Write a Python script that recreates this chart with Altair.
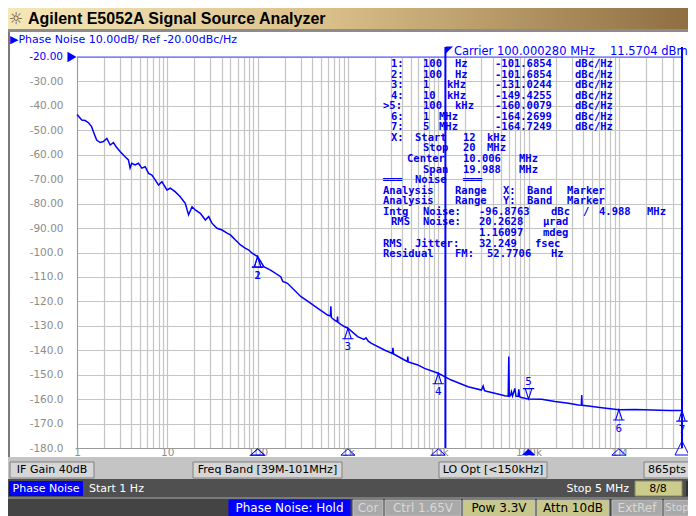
import re
import altair as alt
import pandas as pd

# ---------------- data ----------------
freq_hz = [1.0, 1.13, 1.23, 1.34, 1.45, 1.52, 1.65, 1.80, 1.96, 2.14, 2.33, 2.53, 2.71, 3.0,
           3.41, 3.71, 3.87, 4.04, 4.4, 4.79, 5.22, 5.69, 6.2, 6.75, 7.34, 8.0, 8.71, 9.9,
           10.8, 12.2, 13.9, 15.8, 17.2, 18.8, 20.4, 23.2, 26.4, 28.7, 31.2, 35.5, 40.4,
           45.9, 50.0, 52.2, 56.8, 64.6, 73.4, 79.9, 86.9, 100, 117, 139, 180, 190, 214,
           300, 388, 460, 595, 640, 647, 655, 705, 760, 767, 775, 910, 1000, 1282, 1500,
           1585, 1680, 1802, 2531, 3100, 3150, 3200, 4224, 4550, 4600, 4650, 5945, 7046,
           10000, 13940, 21380, 30060, 31400, 32500, 34100, 42240, 54580, 59500, 60400,
           61200, 63000, 64700, 66500, 70470, 72500, 76500, 78000, 79500, 83600, 100000,
           139400, 196000, 276000, 356700, 384000, 388000, 392000, 460000, 647000,
           1000000, 1520000, 2330000, 3560000, 5000000]
pn_dbc = [-43.5, -45.8, -46.0, -46.9, -48.5, -50.6, -54.0, -55.0, -54.6, -53.3, -56.0, -55.0,
          -56.7, -58.7, -60.8, -62.1, -65.4, -63.5, -64.2, -63.5, -65.5, -64.9, -67.6, -68.3,
          -70.3, -72.4, -71.0, -74.4, -73.7, -75.1, -77.2, -79.9, -84.6, -81.3, -82.6, -84.0,
          -86.7, -85.3, -88.0, -90.1, -90.8, -92.1, -92.8, -93.5, -94.9, -96.9, -98.3, -99.0,
          -100.3, -101.7, -105.8, -107.2, -109.9, -111.8, -112.6, -118.0, -120.8, -122.8,
          -125.6, -126.0, -122.0, -126.6, -127.6, -128.3, -126.2, -128.6, -130.3, -131.0,
          -134.4, -135.6, -134.9, -136.3, -137.1, -139.9, -141.3, -139.0, -141.5, -144.0,
          -144.6, -142.6, -144.8, -146.0, -147.4, -149.4, -152.2, -154.9, -156.3, -154.6,
          -156.5, -156.8, -157.6, -158.6, -158.8, -142.6, -158.8, -158.6, -157.0, -158.7,
          -155.6, -158.8, -158.9, -156.0, -159.0, -159.3, -160.0, -160.1, -161.0, -161.7,
          -162.4, -162.5, -158.3, -162.5, -162.8, -163.5, -164.3, -164.2, -164.4, -164.7,
          -164.7]

marker_ids = ["1", "2", "3", "4", "5", "6", "7"]
marker_freq_hz = [100, 100, 1e3, 1e4, 1e5, 1e6, 5e6]
marker_dbc = [-101.6854, -101.6854, -131.0244, -149.4255, -160.0079, -164.2699, -164.7249]
active_marker = "5"

ref_level = [-20]
band_lines_hz = [12e3, 5e6]          # start 12 kHz, stop (20 MHz) drawn at the right edge

y_ticks = list(range(-20, -181, -10))
x_decades = [1, 10, 100, 1000, 10000, 100000, 1000000]
x_decade_labels = ["1", "10", "100", "1k", "10k", "100k", "1M"]
x_grid = [m * 10 ** d for d in range(0, 7) for m in range(1, 10) if m * 10 ** d <= 5e6]

table_lines = [
    " 1:  100 Hz   -101.6854 dBc/Hz",
    " 2:  100 Hz   -101.6854 dBc/Hz",
    " 3:  1  kHz   -131.0244 dBc/Hz",
    " 4:  10 kHz   -149.4255 dBc/Hz",
    ">5:  100 kHz  -160.0079 dBc/Hz",
    " 6:  1 MHz    -164.2699 dBc/Hz",
    " 7:  5 MHz    -164.7249 dBc/Hz",
    " X: Start 12 kHz",
    "     Stop 20 MHz",
    "   Center 10.006 MHz",
    "     Span 19.988 MHz",
    "═══ Noise ═══",
    "Analysis Range X: Band Marker",
    "Analysis Range Y: Band Marker",
    "Intg Noise: -96.8763 dBc / 4.988 MHz",
    " RMS Noise: 20.2628 µrad",
    "            1.16097 mdeg",
    "RMS Jitter: 32.249 fsec",
    "Residual FM: 52.7706 Hz",
]

# ---------------- layout ----------------
OX, OY = 77, 57          # page position of the plot origin
W, H = 605, 391
BLUE = "#0000ff"
UI = "DejaVu Sans"
MONO = "DejaVu Sans Mono"

one = pd.DataFrame({"d": [0]})


def vx(X):
    return X - OX


def vy(Y):
    return Y - OY


def rect(X1, Y1, X2, Y2, fill, stroke=None, sw=1.0):
    kw = dict(fill=fill)
    if stroke is not None:
        kw.update(stroke=stroke, strokeWidth=sw)
    return alt.Chart(one).mark_rect(**kw).encode(
        x=alt.value(vx(X1)), x2=alt.value(vx(X2)), y=alt.value(vy(Y1)), y2=alt.value(vy(Y2)))


def label(s, X, Y, color, size=11, font=UI, weight="normal", align="left"):
    return alt.Chart(one).mark_text(text=s, align=align, baseline="middle", font=font,
                                    fontSize=size, fontWeight=weight, color=color).encode(
        x=alt.value(vx(X)), y=alt.value(vy(Y)))


xs = alt.Scale(type="log", domain=[1, 5e6], nice=False)
ys = alt.Scale(domain=[-180, -20], nice=False, zero=False)

label_expr = " : ".join(f"datum.value == {v} ? '{t}'" for v, t in zip(x_decades, x_decade_labels)) + " : ''"
x_axis = alt.Axis(values=x_grid, grid=True, gridColor="#c4c4c4", gridWidth=1.2,
                  labelExpr=label_expr, labelColor="#8c8c8c", labelFont=UI, labelFontSize=10.5,
                  labelPadding=-1, ticks=False, tickSize=0, domainColor="#9a9a9a",
                  labelOverlap=False, labelFlush=False, labelBound=False, title=None)
y_axis = alt.Axis(values=y_ticks, grid=True, gridColor="#c4c4c4", gridWidth=1.2,
                  labelExpr="datum.value == -20 ? '' : datum.value > -100 ? '-' + format(abs(datum.value), '.2f') : '-' + format(abs(datum.value), '.1f')",
                  labelColor="#8c8c8c", labelFont=UI, labelFontSize=10.5, labelPadding=14,
                  ticks=False, tickSize=0, domainColor="#9a9a9a", labelOverlap=False,
                  labelBound=False, title=None)


def X_(field="freq_hz"):
    return alt.X(f"{field}:Q", scale=xs, axis=x_axis)


def Y_(field="pn_dbc"):
    return alt.Y(f"{field}:Q", scale=ys, axis=y_axis)


layers = []

# title bar
grad = alt.LinearGradient(gradient="linear", x1=0, x2=1, y1=0, y2=0,
                          stops=[alt.GradientStop(color="#f6e7b8", offset=0),
                                 alt.GradientStop(color="#dcc28c", offset=0.45),
                                 alt.GradientStop(color="#8f6f42", offset=1)])
layers.append(rect(8, 8, 688, 30, grad))
layers.append(rect(8, 29, 688, 32, "#8c8c8c"))
layers.append(label("☼", 16, 19, "#5c4c20", size=16, align="center"))
layers.append(label("Agilent E5052A Signal Source Analyzer", 28, 19, "#000000", size=16,
                    font="Liberation Sans", weight="bold"))
# panel border
layers.append(rect(8, 32, 10, 458, "#7a7a7a"))

# status row 1
layers.append(rect(8, 457, 688, 479, "#c4c4c4"))
for txt, x1, x2 in [("IF Gain 40dB", 10, 94), ("Freq Band [39M-101MHz]", 193, 342),
                    ("LO Opt [<150kHz]", 439, 547), ("865pts", 644, 690)]:
    layers.append(rect(x1, 462, x2, 478, "#d6d6d6", "#808080"))
    layers.append(label(txt, (x1 + x2) / 2, 470, "#000000", align="center"))

# status row 2
layers.append(rect(8, 479, 688, 497, "#505050"))
layers.append(rect(9, 481, 83, 496, BLUE))
layers.append(label("Phase Noise", 46, 489, "#ffffff", align="center"))
layers.append(label("Start 1 Hz", 89, 489, "#ffffff"))
layers.append(label("Stop 5 MHz", 629, 489, "#ffffff", align="right"))
layers.append(rect(635, 481, 682, 496, "#cccc8c", "#8a8a60"))
layers.append(label("8/8", 658, 489, "#000000", align="center"))
layers.append(rect(686, 481, 696, 496, "#303030"))

# status row 3
layers.append(rect(8, 497, 688, 499, "#7a7a7a"))
layers.append(rect(8, 499, 688, 516, "#444444"))
for txt, x1, x2, bg, fg in [("Phase Noise: Hold", 229, 350, BLUE, "#ffffff"),
                            ("Cor", 353, 383, "#a9a9a9", "#d8d8d8"),
                            ("Ctrl  1.65V", 385, 461, "#a9a9a9", "#d8d8d8"),
                            ("Pow  3.3V", 463, 535, "#c8c88c", "#000000"),
                            ("Attn 10dB", 537, 609, "#c8c88c", "#000000"),
                            ("ExtRef", 612, 662, "#a9a9a9", "#d8d8d8")]:
    layers.append(rect(x1, 500, x2, 516, bg, "#bdbdbd" if bg != BLUE else BLUE))
    layers.append(label(txt, (x1 + x2) / 2, 508, fg, size=12, align="center"))
layers.append(rect(664, 500, 700, 516, "#a9a9a9", "#bdbdbd"))
layers.append(label("Stop", 665, 508, "#d8d8d8", size=10.5))

# header texts
layers.append(label("▶Phase Noise 10.00dB/ Ref -20.00dBc/Hz", 10, 40, BLUE, size=11))
layers.append(label("-20.00", 63, 57, BLUE, size=10.5, align="right"))
layers.append(alt.Chart(one).mark_point(shape="triangle-right", filled=True, color=BLUE,
                                        size=110, opacity=1).encode(
    x=alt.value(-5), y=alt.value(0)))
layers.append(label("Carrier 100.000280 MHz", 454, 52, BLUE, size=11.5))
layers.append(label("11.5704 dBm", 610, 52, BLUE, size=11.5))

# reference level line
layers.append(alt.Chart(pd.DataFrame({"lvl": ref_level})).mark_rule(
    color="#4a4aff", strokeWidth=1).encode(y=Y_("lvl"), x=alt.value(0), x2=alt.value(W)))

# curve (carries the axes)
df_curve = pd.DataFrame({"freq_hz": freq_hz, "pn_dbc": pn_dbc})
layers.append(alt.Chart(df_curve).mark_line(color=BLUE, strokeWidth=1.5).encode(
    x=X_(), y=Y_()))

# band marker lines
df_band = pd.DataFrame({"freq_hz": band_lines_hz})
layers.append(alt.Chart(df_band).mark_rule(color=BLUE, strokeWidth=2).encode(
    x=X_(), y=alt.value(vy(47)), y2=alt.value(vy(448))))
layers.append(alt.Chart(df_band.iloc[:1]).mark_point(
    shape="M-1,-1L1,-1L-1,1Z", filled=True, color=BLUE, size=50, opacity=1, xOffset=4).encode(
    x=X_(), y=alt.value(vy(50))))

# markers
df_m = pd.DataFrame({"id": marker_ids, "freq_hz": marker_freq_hz, "pn_dbc": marker_dbc})
normal = df_m[df_m.id != active_marker]
active = df_m[df_m.id == active_marker]
layers.append(alt.Chart(normal).mark_point(
    shape="M0,-1L0.55,0.75L-0.55,0.75Z M-0.95,0.75L0.95,0.75", filled=False, color=BLUE,
    strokeWidth=1.1, size=144, opacity=1, yOffset=6).encode(x=X_(), y=Y_()))
layers.append(alt.Chart(normal).mark_text(font=MONO, fontSize=11, color=BLUE, dy=19,
                                          baseline="middle").encode(text="id:N", x=X_(), y=Y_()))
layers.append(alt.Chart(active).mark_point(
    shape="M0,1L0.55,-0.75L-0.55,-0.75Z M-0.95,-0.75L0.95,-0.75", filled=False, color=BLUE,
    strokeWidth=1.1, size=144, opacity=1, yOffset=-6).encode(x=X_(), y=Y_()))
layers.append(alt.Chart(active).mark_text(font=MONO, fontSize=11, color=BLUE, dy=-17,
                                          baseline="middle").encode(text="id:N", x=X_(), y=Y_()))

# marker indicators on the frequency axis
last = df_m[df_m.id == marker_ids[-1]]
axis_m = df_m[(df_m.id != active_marker) & (df_m.id != marker_ids[-1])]
layers.append(alt.Chart(axis_m).mark_point(
    shape="M-1,0.45L0,-0.45L1,0.45Z", filled=False, color=BLUE, strokeWidth=1,
    size=196, opacity=1).encode(x=X_(), y=alt.value(vy(452))))
layers.append(alt.Chart(active).mark_point(
    shape="M-1,0.45L0,-0.45L1,0.45Z", filled=True, color=BLUE, size=196, opacity=1).encode(
    x=X_(), y=alt.value(vy(452))))
layers.append(alt.Chart(last).mark_point(
    shape="M-1,1L0,-1L1,1Z", filled=False, color=BLUE, strokeWidth=1, size=196,
    opacity=1).encode(x=X_(), y=alt.value(vy(448))))

# marker / noise table (monospaced, 8 px pitch)
for i, line in enumerate(table_lines):
    Y = 64 + 10.56 * i
    for m in re.finditer(r"\S+", line):
        layers.append(label(m.group(0), 383 + 8 * m.start(), Y, "#0000ee", size=10.5,
                            font=MONO, weight="bold"))

chart = alt.layer(*layers).properties(
    width=W, height=H,
    autosize=alt.AutoSizeParams(type="none"),
    padding={"left": 69, "top": 49, "right": 680 - 69 - W, "bottom": 508 - 49 - H},
    background="#ffffff",
).configure_view(stroke=None)

chart.save("out.html", embed_options={"renderer": "svg", "actions": False})
